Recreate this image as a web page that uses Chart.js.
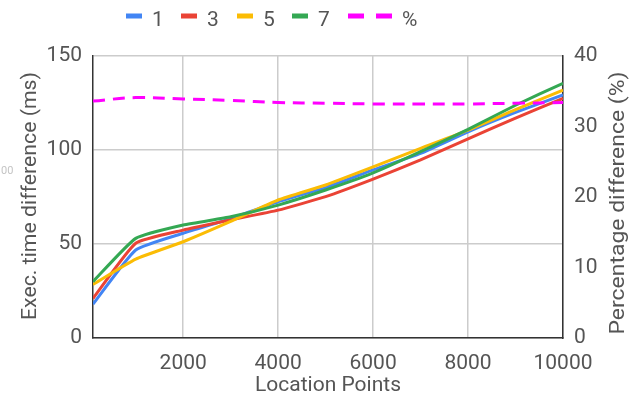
<!DOCTYPE html>
<html>
<head>
<meta charset="utf-8">
<script src="https://cdn.jsdelivr.net/npm/chart.js@4.4.1/dist/chart.umd.min.js"></script>
<style>
  html, body { margin: 0; padding: 0; background: #fff; }
  #wrap { width: 632px; height: 401px; position: relative; }
</style>
</head>
<body>
<div id="wrap"><canvas id="c" width="632" height="401"></canvas></div>
<script>
// Number of location points on the x axis
const locationPoints = [100, 1000, 2000, 3000, 4000, 5000, 6000, 7000, 8000, 9000, 10000];

// Execution time difference (ms) for each setting
const seriesNames = ['1', '3', '5', '7', '%'];
const timeDiff1 = [18, 46.8, 55.7, 63.5, 72.5, 80, 89.4, 98.2, 109.7, 120, 129.3];
const timeDiff3 = [21, 50.4, 57.4, 62.8, 68, 75.2, 84.5, 94.7, 105.9, 117, 127.5];
const timeDiff5 = [28.5, 42, 51.2, 62, 73.4, 81.4, 91, 100.9, 110.6, 121.5, 131.9];
const timeDiff7 = [30, 53, 60.1, 64.5, 70.7, 78.7, 87.8, 99.1, 111, 123.8, 135.5];

// Percentage difference (%) on the right axis
const pctDiff = [33.6, 34.1, 33.9, 33.7, 33.4, 33.3, 33.2, 33.2, 33.2, 33.3, 33.4];

// Tick labels
const xTickValues = [2000, 4000, 6000, 8000, 10000];
const leftTickValues = [0, 50, 100, 150];
const rightTickValues = [0, 10, 20, 30, 40];

const colors = ['#4285F4', '#EA4335', '#FBBC04', '#34A853', '#FF00FF'];
const FONT = 'Roboto, "Liberation Sans", Arial, sans-serif';
const TEXT = '#555';
const SIZE = 21;

const toPoints = ys => locationPoints.map((x, i) => ({ x, y: ys[i] }));

const lineSet = (name, ys, idx, order) => ({
  label: name,
  data: toPoints(ys),
  borderColor: colors[idx],
  backgroundColor: colors[idx],
  borderWidth: 3,
  pointRadius: 0,
  tension: 0.15,
  yAxisID: 'y',
  order
});

// Draws a rotated (bottom-to-top) title fitted to a given length
function verticalTitle(ctx, text, cx, cy, length) {
  ctx.save();
  ctx.translate(cx, cy);
  ctx.rotate(-Math.PI / 2);
  const w = ctx.measureText(text).width;
  ctx.scale(length / w, 1);
  ctx.fillText(text, 0, 0);
  ctx.restore();
}

// Legend and axis titles drawn on the canvas
const decor = {
  id: 'decor',
  afterDraw(chart) {
    const ctx = chart.ctx;
    const area = chart.chartArea;
    ctx.save();
    ctx.font = SIZE + 'px ' + FONT;
    ctx.fillStyle = TEXT;
    ctx.textBaseline = 'alphabetic';

    // legend
    const boxX = [126, 181, 237, 292, 348];
    seriesNames.forEach((name, i) => {
      const x0 = boxX[i];
      let end;
      ctx.fillStyle = colors[i];
      if (i < 4) {
        ctx.fillRect(x0, 13.5, 16, 5);
        end = x0 + 16;
      } else {
        ctx.fillRect(x0, 13.5, 16, 5);
        ctx.fillRect(x0 + 28, 13.5, 16, 5);
        end = x0 + 44;
      }
      ctx.fillStyle = TEXT;
      ctx.textAlign = 'left';
      ctx.fillText(name, end + 10, 25.5);
    });

    // x axis title
    ctx.textAlign = 'center';
    ctx.textBaseline = 'middle';
    ctx.fillText('Location Points', (area.left + area.right) / 2, 386);

    // y axis titles
    verticalTitle(ctx, 'Exec. time difference (ms)', 31, 196, 248);
    verticalTitle(ctx, 'Percentage difference (%)', 619, 203, 263);

    // faint leftover label at the far left edge
    ctx.fillStyle = '#c4c4c4';
    ctx.font = '11px ' + FONT;
    ctx.textAlign = 'left';
    ctx.fillText('00', 1, 171);

    ctx.restore();
  }
};

const tickFont = { family: FONT, size: SIZE };

new Chart(document.getElementById('c'), {
  type: 'line',
  data: {
    datasets: [
      lineSet(seriesNames[0], timeDiff1, 0, 5),
      lineSet(seriesNames[1], timeDiff3, 1, 4),
      lineSet(seriesNames[2], timeDiff5, 2, 3),
      lineSet(seriesNames[3], timeDiff7, 3, 2),
      {
        label: seriesNames[4],
        data: toPoints(pctDiff),
        borderColor: colors[4],
        backgroundColor: colors[4],
        borderWidth: 3,
        borderDash: [12, 8],
        pointRadius: 0,
        tension: 0.4,
        yAxisID: 'y2',
        order: 1
      }
    ]
  },
  options: {
    responsive: false,
    animation: false,
    devicePixelRatio: 1,
    layout: { padding: { top: 56, left: 0, right: 0, bottom: 0 } },
    plugins: {
      legend: { display: false },
      tooltip: { enabled: false },
      title: { display: false }
    },
    scales: {
      x: {
        type: 'linear',
        min: locationPoints[0],
        max: 10000,
        afterBuildTicks: s => { s.ticks = xTickValues.map(v => ({ value: v })); },
        afterFit: s => { s.height = 63; },
        grid: { color: '#cccccc', lineWidth: 1.5, drawTicks: false },
        border: { display: true, color: '#333', width: 1.5 },
        ticks: { padding: 13, color: TEXT, font: tickFont, maxRotation: 0, callback: v => String(v) }
      },
      y: {
        position: 'left',
        min: 0,
        max: 150,
        afterBuildTicks: s => { s.ticks = leftTickValues.map(v => ({ value: v })); },
        afterFit: s => { s.width = 93; },
        grid: { color: '#cccccc', lineWidth: 1.5, drawTicks: false },
        border: { display: true, color: '#333', width: 1.5 },
        ticks: { padding: 11, color: TEXT, font: tickFont, callback: v => String(v) }
      },
      y2: {
        position: 'right',
        min: 0,
        max: 40,
        afterBuildTicks: s => { s.ticks = rightTickValues.map(v => ({ value: v })); },
        afterFit: s => { s.width = 69; },
        grid: { display: false, drawTicks: false },
        border: { display: true, color: '#333', width: 1.5 },
        ticks: { padding: 11, color: TEXT, font: tickFont, callback: v => String(v) }
      }
    }
  },
  plugins: [decor]
});
</script>
</body>
</html>
